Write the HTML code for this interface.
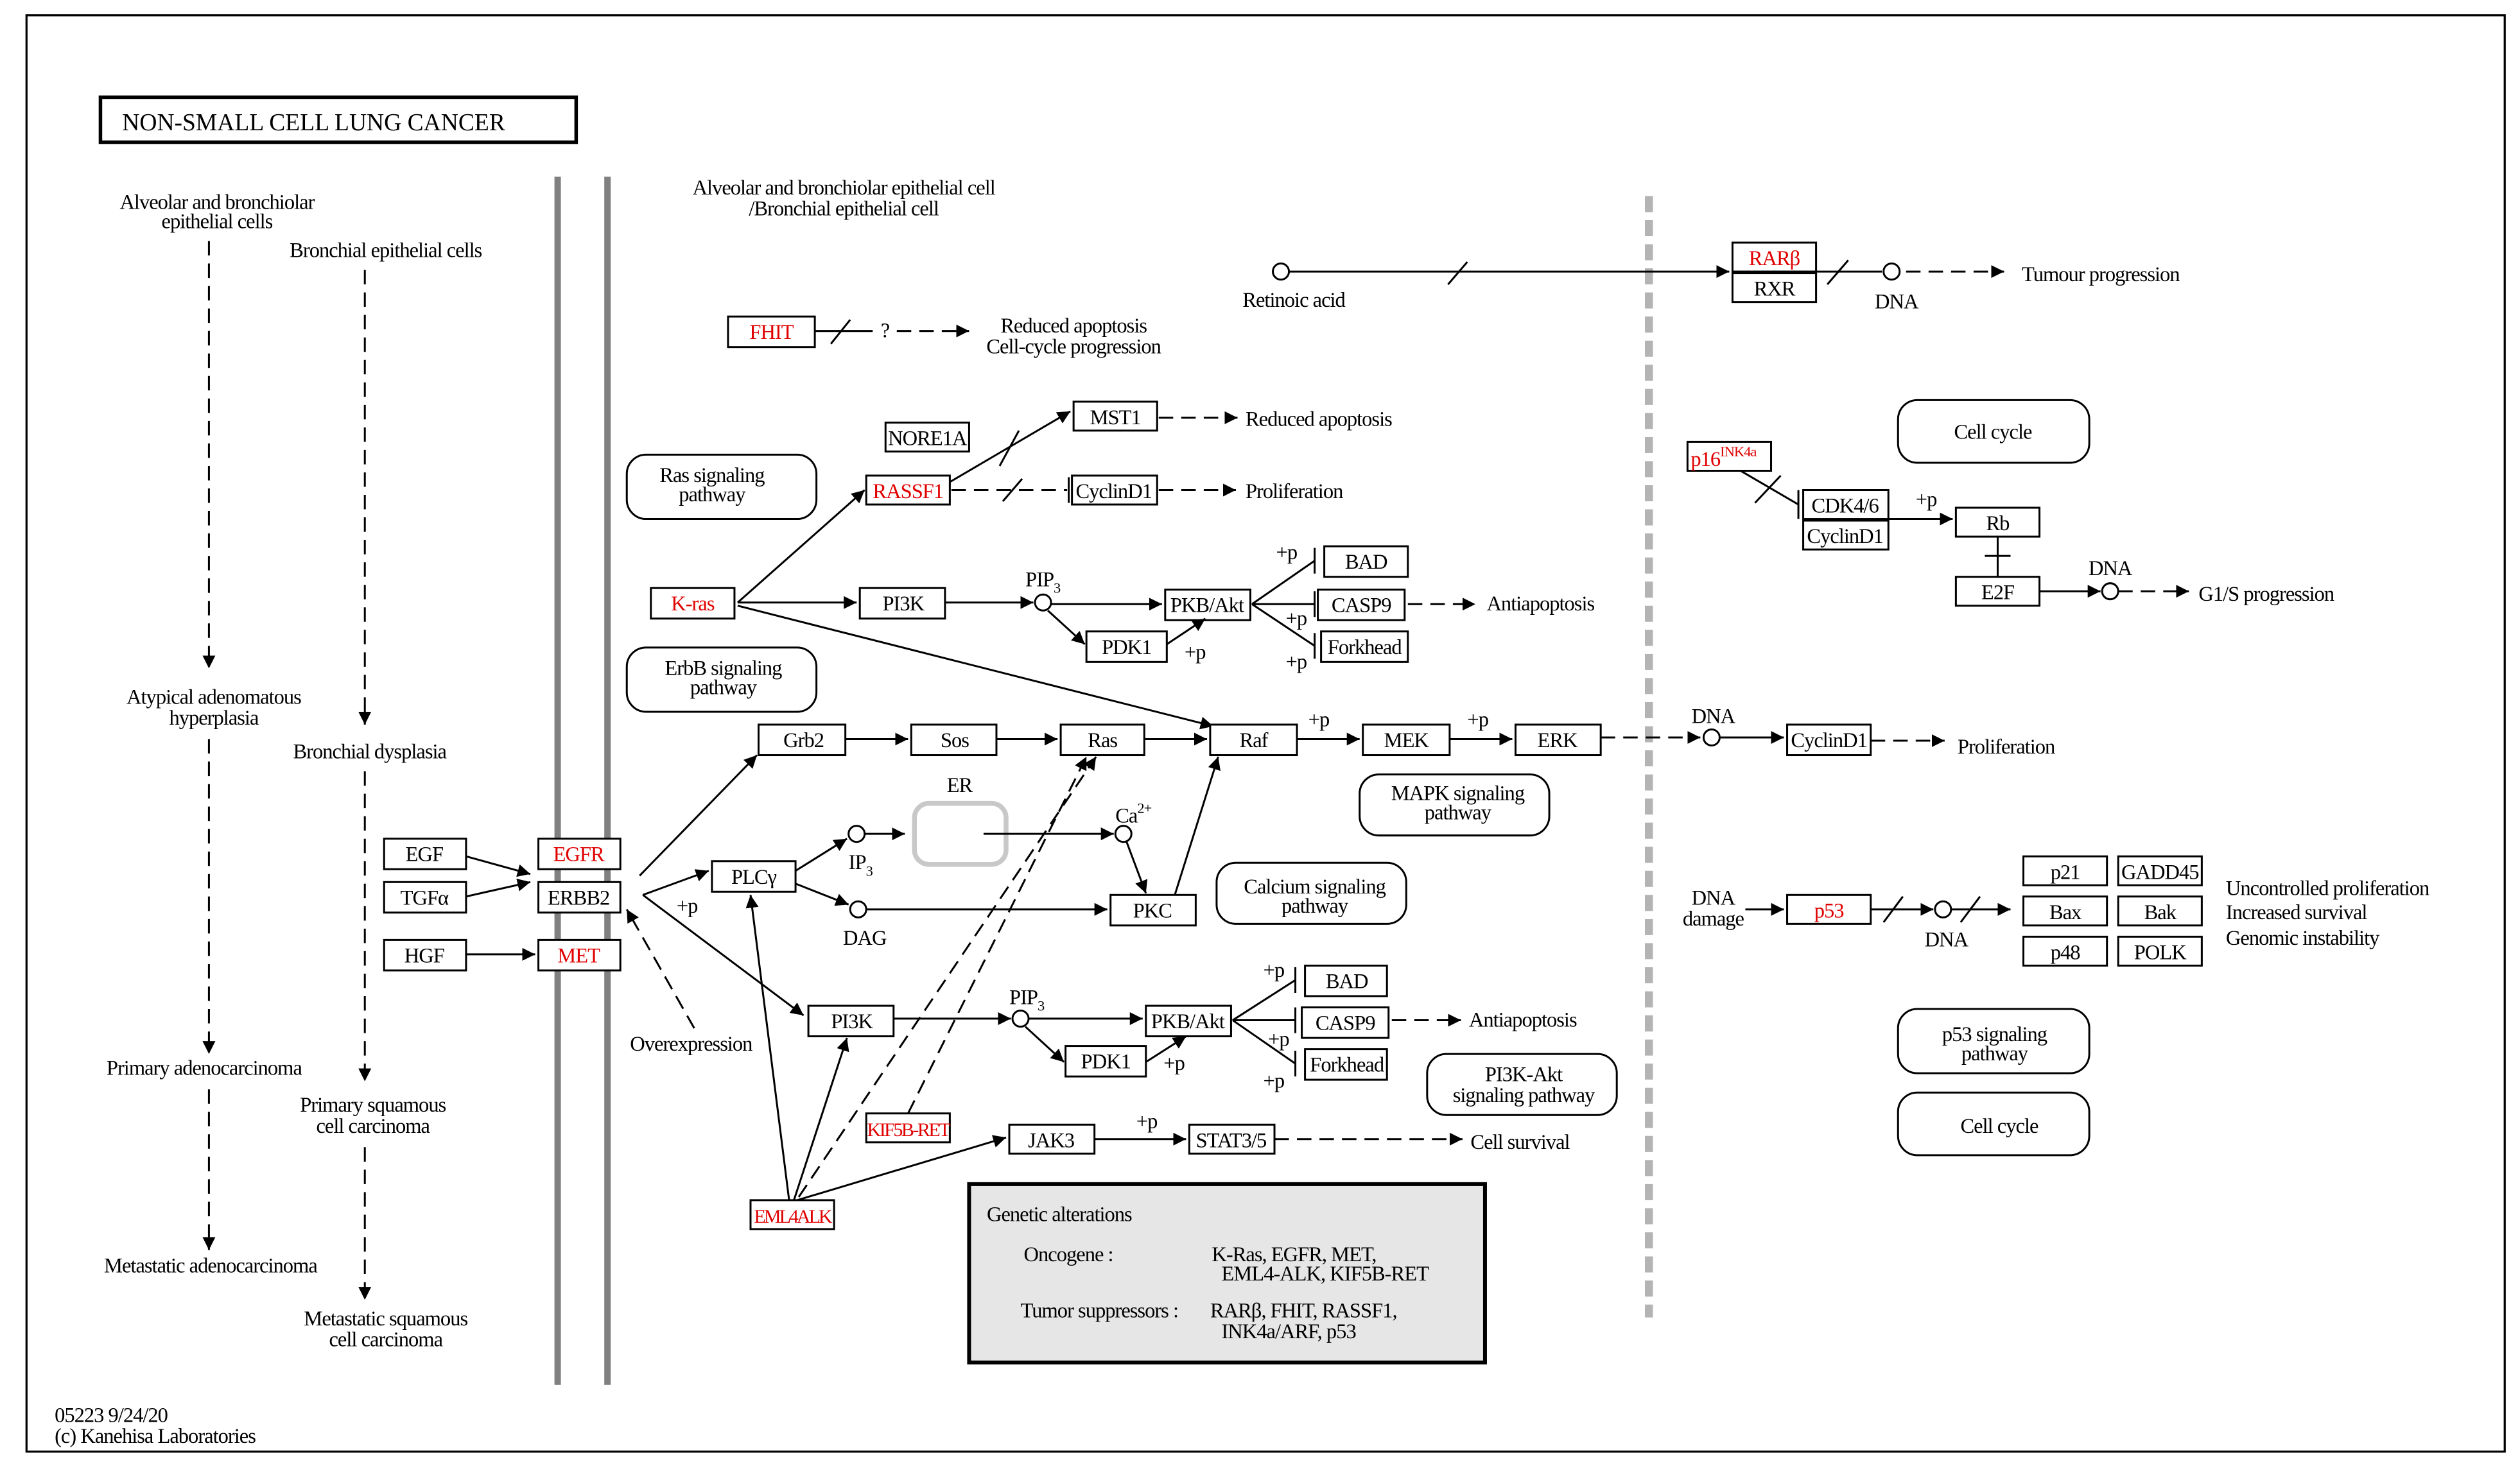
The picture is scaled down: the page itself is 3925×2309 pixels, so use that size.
<!DOCTYPE html>
<html><head><meta charset="utf-8"><style>
html,body{margin:0;padding:0;background:#fff}
svg{display:block}
text{font-family:"Liberation Serif","DejaVu Serif","Times New Roman",Times,serif;font-size:13px;fill:#000;letter-spacing:-0.4px}
.b{fill:#fff;stroke:#000;stroke-width:1.2}
.r{fill:#e00000}
.l{stroke:#000;stroke-width:1.2;fill:none}
.d{stroke:#000;stroke-width:1.2;fill:none;stroke-dasharray:9,5}
.rb{fill:#fff;stroke:#000;stroke-width:1.2}
</style></head><body>
<svg width="3925" height="2309" viewBox="0 0 1568 922.4" xmlns="http://www.w3.org/2000/svg">
<defs>
<marker id="a" viewBox="0 0 10 10" refX="10" refY="5" markerWidth="8" markerHeight="8" markerUnits="userSpaceOnUse" orient="auto"><path d="M0,0L10,5L0,10z" fill="#000"/></marker>
</defs>
<rect x="0" y="0" width="1568" height="923" fill="#fff"/>
<rect x="16.5" y="9.5" width="1542" height="894" fill="none" stroke="#000" stroke-width="1.3"/>
<rect x="62.5" y="60.5" width="296" height="28" fill="#fff" stroke="#000" stroke-width="2.2"/>
<text x="76" y="81" style="font-size:15px;letter-spacing:0">NON-SMALL  CELL  LUNG  CANCER</text>
<rect x="345" y="110" width="4" height="752" fill="#808080"/>
<rect x="376" y="110" width="4" height="752" fill="#808080"/>
<line x1="1026" y1="122" x2="1026" y2="820" stroke="#b4b4b4" stroke-width="5" stroke-dasharray="10,5"/>

<g text-anchor="middle">
<text x="135" y="130">Alveolar and bronchiolar</text><text x="135" y="142">epithelial cells</text>
<text x="240" y="160">Bronchial epithelial cells</text>
<text x="133" y="438">Atypical adenomatous</text><text x="133" y="451">hyperplasia</text>
<text x="230" y="472">Bronchial dysplasia</text>
<text x="127" y="669">Primary adenocarcinoma</text>
<text x="232" y="692">Primary squamous</text><text x="232" y="705">cell carcinoma</text>
<text x="131" y="792">Metastatic adenocarcinoma</text>
<text x="240" y="825">Metastatic squamous</text><text x="240" y="838">cell carcinoma</text>
<text x="525" y="121">Alveolar and bronchiolar epithelial cell</text><text x="525" y="134">/Bronchial epithelial cell</text>
</g>
<line class="d" x1="130" y1="150" x2="130" y2="416" marker-end="url(#a)"/>
<line class="d" x1="227" y1="168" x2="227" y2="451" marker-end="url(#a)"/>
<line class="d" x1="130" y1="460" x2="130" y2="656" marker-end="url(#a)"/>
<line class="d" x1="227" y1="480" x2="227" y2="673" marker-end="url(#a)"/>
<line class="d" x1="130" y1="678" x2="130" y2="778" marker-end="url(#a)"/>
<line class="d" x1="227" y1="714" x2="227" y2="809" marker-end="url(#a)"/>
<text x="34" y="885">05223 9/24/20</text><text x="34" y="898">(c) Kanehisa Laboratories</text>

<g text-anchor="middle">
<rect class="b" x="239" y="522" width="51" height="19"/><text x="264" y="536">EGF</text>
<rect class="b" x="239" y="549" width="51" height="19"/><text x="264" y="563">TGFα</text>
<rect class="b" x="239" y="585" width="51" height="19"/><text x="264" y="599">HGF</text>
<rect class="b" x="335" y="522" width="51" height="19"/><text class="r" x="360" y="536">EGFR</text>
<rect class="b" x="335" y="549" width="51" height="19"/><text x="360" y="563">ERBB2</text>
<rect class="b" x="335" y="585" width="51" height="19"/><text class="r" x="360" y="599">MET</text>
</g>
<line class="l" x1="290" y1="533" x2="330" y2="544" marker-end="url(#a)"/>
<line class="l" x1="290" y1="558" x2="330" y2="549" marker-end="url(#a)"/>
<line class="l" x1="290" y1="594" x2="333" y2="594" marker-end="url(#a)"/>

<rect class="b" x="453" y="197" width="54" height="19"/><text class="r" x="480" y="211" text-anchor="middle">FHIT</text>
<line class="l" x1="507" y1="206" x2="543" y2="206"/><line class="l" x1="517" y1="214" x2="529" y2="199"/>
<text x="548" y="210">?</text>
<line class="d" x1="558" y1="206" x2="603" y2="206" marker-end="url(#a)"/>
<text x="668" y="207" text-anchor="middle">Reduced apoptosis</text><text x="668" y="220" text-anchor="middle">Cell-cycle progression</text>

<circle cx="797" cy="169" r="5" fill="#fff" stroke="#000" stroke-width="1.2"/>
<line class="l" x1="802" y1="169" x2="1076" y2="169" marker-end="url(#a)"/>
<line class="l" x1="901" y1="177" x2="913" y2="163"/>
<text x="805" y="191" text-anchor="middle">Retinoic acid</text>
<rect class="b" x="1078" y="151" width="52" height="18"/><text class="r" x="1104" y="165" text-anchor="middle">RARβ</text>
<rect class="b" x="1078" y="170" width="52" height="18"/><text x="1104" y="184" text-anchor="middle">RXR</text>
<line class="l" x1="1130" y1="169" x2="1171" y2="169"/><line class="l" x1="1137" y1="177" x2="1150" y2="162"/>
<circle cx="1177" cy="169" r="5" fill="#fff" stroke="#000" stroke-width="1.2"/>
<text x="1180" y="192" text-anchor="middle">DNA</text>
<line class="d" x1="1186" y1="169" x2="1247" y2="169" marker-end="url(#a)"/>
<text x="1258" y="175">Tumour progression</text>

<g text-anchor="middle">
<rect class="b" x="551" y="263" width="52" height="18"/><text x="577" y="277">NORE1A</text>
<rect class="b" x="668" y="250" width="52" height="18"/><text x="694" y="264">MST1</text>
<rect class="b" x="539" y="296" width="52" height="18"/><text class="r" x="565" y="310">RASSF1</text>
<rect class="b" x="667" y="296" width="53" height="18"/><text x="693" y="310">CyclinD1</text>
<rect class="b" x="405" y="366" width="52" height="19"/><text class="r" x="431" y="380">K-ras</text>
</g>
<line class="l" x1="459" y1="375" x2="538" y2="305" marker-end="url(#a)"/>
<line class="l" x1="591" y1="300" x2="666" y2="256" marker-end="url(#a)"/>
<line class="l" x1="622" y1="290" x2="634" y2="268"/>
<line class="d" x1="592" y1="305" x2="664" y2="305"/><line class="l" x1="665" y1="297" x2="665" y2="313"/>
<line class="l" x1="624" y1="312" x2="636" y2="298"/>
<line class="d" x1="721" y1="260" x2="770" y2="260" marker-end="url(#a)"/><text x="775" y="265">Reduced apoptosis</text>
<line class="d" x1="721" y1="305" x2="769" y2="305" marker-end="url(#a)"/><text x="775" y="310">Proliferation</text>

<g text-anchor="middle">
<rect class="rb" x="390" y="283" width="118" height="40" rx="12"/><text x="443" y="300">Ras signaling</text><text x="443" y="312">pathway</text>
<rect class="rb" x="390" y="403" width="118" height="40" rx="12"/><text x="450" y="420">ErbB signaling</text><text x="450" y="432">pathway</text>
<rect class="rb" x="846" y="482" width="118" height="38" rx="12"/><text x="907" y="498">MAPK signaling</text><text x="907" y="510">pathway</text>
<rect class="rb" x="757" y="537" width="118" height="38" rx="12"/><text x="818" y="556">Calcium signaling</text><text x="818" y="568">pathway</text>
<rect class="rb" x="888" y="656" width="118" height="38" rx="12"/><text x="948" y="673">PI3K-Akt</text><text x="948" y="686">signaling pathway</text>
<rect class="rb" x="1181" y="249" width="119" height="39" rx="12"/><text x="1240" y="273">Cell cycle</text>
<rect class="rb" x="1181" y="628" width="119" height="40" rx="12"/><text x="1241" y="648">p53 signaling</text><text x="1241" y="660">pathway</text>
<rect class="rb" x="1181" y="680" width="119" height="39" rx="12"/><text x="1244" y="705">Cell cycle</text>
</g>

<g text-anchor="middle">
<rect class="b" x="535" y="366" width="53" height="19"/><text x="562" y="380">PI3K</text>
<rect class="b" x="725" y="367" width="53" height="19"/><text x="751" y="381">PKB/Akt</text>
<rect class="b" x="676" y="393" width="50" height="19"/><text x="701" y="407">PDK1</text>
<rect class="b" x="824" y="340" width="52" height="19"/><text x="850" y="354">BAD</text>
<rect class="b" x="820" y="367" width="54" height="19"/><text x="847" y="381">CASP9</text>
<rect class="b" x="822" y="393" width="54" height="19"/><text x="849" y="407">Forkhead</text>
</g>
<line class="l" x1="459" y1="375" x2="533" y2="375" marker-end="url(#a)"/>
<line class="l" x1="588" y1="375" x2="643" y2="375" marker-end="url(#a)"/>
<circle cx="649" cy="375" r="5" fill="#fff" stroke="#000" stroke-width="1.2"/>
<text x="638" y="365">PIP<tspan dy="4" style="font-size:9px">3</tspan></text>
<line class="l" x1="654" y1="376" x2="723" y2="376" marker-end="url(#a)"/>
<line class="l" x1="652" y1="380" x2="675" y2="401" marker-end="url(#a)"/>
<line class="l" x1="726" y1="401" x2="750" y2="385" marker-end="url(#a)"/>
<text x="737" y="410">+p</text>
<line class="l" x1="779" y1="376" x2="818" y2="349"/><line class="l" x1="818" y1="341" x2="818" y2="357"/>
<line class="l" x1="779" y1="376" x2="818" y2="376"/><line class="l" x1="818" y1="368" x2="818" y2="384"/>
<line class="l" x1="779" y1="376" x2="818" y2="402"/><line class="l" x1="818" y1="394" x2="818" y2="410"/>
<text x="794" y="348">+p</text><text x="800" y="389">+p</text><text x="800" y="416">+p</text>
<line class="d" x1="876" y1="376" x2="918" y2="376" marker-end="url(#a)"/><text x="925" y="380">Antiapoptosis</text>
<line class="l" x1="459" y1="377" x2="755" y2="452" marker-end="url(#a)"/>

<g text-anchor="middle">
<rect class="b" x="472" y="451" width="54" height="19"/><text x="500" y="465">Grb2</text>
<rect class="b" x="567" y="451" width="53" height="19"/><text x="594" y="465">Sos</text>
<rect class="b" x="660" y="451" width="52" height="19"/><text x="686" y="465">Ras</text>
<rect class="b" x="753" y="451" width="54" height="19"/><text x="780" y="465">Raf</text>
<rect class="b" x="848" y="451" width="54" height="19"/><text x="875" y="465">MEK</text>
<rect class="b" x="943" y="451" width="53" height="19"/><text x="969" y="465">ERK</text>
<rect class="b" x="1112" y="451" width="52" height="19"/><text x="1138" y="465">CyclinD1</text>
</g>
<line class="l" x1="526" y1="460" x2="565" y2="460" marker-end="url(#a)"/>
<line class="l" x1="620" y1="460" x2="658" y2="460" marker-end="url(#a)"/>
<line class="l" x1="712" y1="460" x2="751" y2="460" marker-end="url(#a)"/>
<line class="l" x1="807" y1="460" x2="846" y2="460" marker-end="url(#a)"/><text x="814" y="452">+p</text>
<line class="l" x1="902" y1="460" x2="941" y2="460" marker-end="url(#a)"/><text x="913" y="452">+p</text>
<line class="d" x1="996" y1="459" x2="1058" y2="459" marker-end="url(#a)"/>
<circle cx="1065" cy="459" r="5" fill="#fff" stroke="#000" stroke-width="1.2"/>
<text x="1066" y="450" text-anchor="middle">DNA</text>
<line class="l" x1="1070" y1="459" x2="1110" y2="459" marker-end="url(#a)"/>
<line class="d" x1="1164" y1="461" x2="1210" y2="461" marker-end="url(#a)"/><text x="1218" y="469">Proliferation</text>

<line class="l" x1="398" y1="545" x2="471" y2="470" marker-end="url(#a)"/>
<line class="l" x1="400" y1="557" x2="441" y2="542" marker-end="url(#a)"/>
<line class="l" x1="400" y1="557" x2="500" y2="632" marker-end="url(#a)"/>
<text x="421" y="568">+p</text>
<line class="d" x1="432" y1="640" x2="390" y2="566" marker-end="url(#a)"/>
<text x="430" y="654" text-anchor="middle">Overexpression</text>

<g text-anchor="middle">
<rect class="b" x="443" y="536" width="52" height="19"/><text x="469" y="550">PLCγ</text>
<rect class="b" x="691" y="557" width="53" height="19"/><text x="717" y="571">PKC</text>
</g>
<rect x="569" y="500" width="57" height="38" rx="9" fill="none" stroke="#c8c8c8" stroke-width="3"/>
<text x="597" y="493" text-anchor="middle">ER</text>
<line class="l" x1="495" y1="542" x2="527" y2="522" marker-end="url(#a)"/>
<circle cx="533" cy="519" r="5" fill="#fff" stroke="#000" stroke-width="1.2"/>
<text x="528" y="541">IP<tspan dy="4" style="font-size:9px">3</tspan></text>
<line class="l" x1="538" y1="519" x2="563" y2="519" marker-end="url(#a)"/>
<line class="l" x1="612" y1="519" x2="693" y2="519" marker-end="url(#a)"/>
<circle cx="699" cy="519" r="5" fill="#fff" stroke="#000" stroke-width="1.2"/>
<text x="694" y="512">Ca<tspan dy="-6" style="font-size:9px">2+</tspan></text>
<line class="l" x1="701" y1="524" x2="713" y2="556" marker-end="url(#a)"/>
<line class="l" x1="495" y1="550" x2="528" y2="563" marker-end="url(#a)"/>
<circle cx="534" cy="566" r="5" fill="#fff" stroke="#000" stroke-width="1.2"/>
<text x="538" y="588" text-anchor="middle">DAG</text>
<line class="l" x1="539" y1="566" x2="689" y2="566" marker-end="url(#a)"/>
<line class="l" x1="731" y1="557" x2="758" y2="471" marker-end="url(#a)"/>

<g text-anchor="middle">
<rect class="b" x="503" y="626" width="53" height="19"/><text x="530" y="640">PI3K</text>
<rect class="b" x="713" y="626" width="53" height="19"/><text x="739" y="640">PKB/Akt</text>
<rect class="b" x="663" y="651" width="50" height="19"/><text x="688" y="665">PDK1</text>
<rect class="b" x="812" y="601" width="51" height="19"/><text x="838" y="615">BAD</text>
<rect class="b" x="810" y="627" width="54" height="19"/><text x="837" y="641">CASP9</text>
<rect class="b" x="812" y="653" width="51" height="19"/><text x="838" y="667">Forkhead</text>
</g>
<line class="l" x1="556" y1="634" x2="629" y2="634" marker-end="url(#a)"/>
<circle cx="635" cy="634" r="5" fill="#fff" stroke="#000" stroke-width="1.2"/>
<text x="628" y="625">PIP<tspan dy="4" style="font-size:9px">3</tspan></text>
<line class="l" x1="640" y1="634" x2="711" y2="634" marker-end="url(#a)"/>
<line class="l" x1="638" y1="639" x2="662" y2="661" marker-end="url(#a)"/>
<line class="l" x1="713" y1="661" x2="738" y2="645" marker-end="url(#a)"/>
<text x="724" y="666">+p</text>
<line class="l" x1="767" y1="635" x2="806" y2="610"/><line class="l" x1="806" y1="602" x2="806" y2="618"/>
<line class="l" x1="767" y1="635" x2="806" y2="635"/><line class="l" x1="806" y1="627" x2="806" y2="643"/>
<line class="l" x1="767" y1="635" x2="806" y2="662"/><line class="l" x1="806" y1="654" x2="806" y2="670"/>
<text x="786" y="608">+p</text><text x="789" y="651">+p</text><text x="786" y="677">+p</text>
<line class="d" x1="866" y1="635" x2="909" y2="635" marker-end="url(#a)"/><text x="914" y="639">Antiapoptosis</text>

<g text-anchor="middle">
<rect class="b" x="539" y="693" width="52" height="18"/><text class="r" x="565" y="707" style="font-size:12px;letter-spacing:-1px">KIF5B-RET</text>
<rect class="b" x="467" y="747" width="52" height="18"/><text class="r" x="493" y="761" style="font-size:12px;letter-spacing:-1.2px">EML4ALK</text>
<rect class="b" x="628" y="700" width="53" height="18"/><text x="654" y="714">JAK3</text>
<rect class="b" x="740" y="700" width="53" height="18"/><text x="766" y="714">STAT3/5</text>
</g>
<line class="l" x1="491" y1="747" x2="467" y2="557" marker-end="url(#a)"/>
<line class="l" x1="494" y1="747" x2="527" y2="646" marker-end="url(#a)"/>
<line class="l" x1="496" y1="747" x2="626" y2="708" marker-end="url(#a)"/>
<line class="d" x1="497" y1="745" x2="682" y2="471" marker-end="url(#a)"/>
<line class="d" x1="565" y1="693" x2="676" y2="471" marker-end="url(#a)"/>
<line class="l" x1="681" y1="709" x2="738" y2="709" marker-end="url(#a)"/><text x="707" y="702">+p</text>
<line class="d" x1="793" y1="709" x2="910" y2="709" marker-end="url(#a)"/><text x="915" y="715">Cell survival</text>

<rect x="603" y="737" width="321" height="111" fill="#e6e6e6" stroke="#000" stroke-width="2.4"/>
<text x="614" y="760">Genetic alterations</text>
<text x="637" y="785">Oncogene :</text>
<text x="754" y="785">K-Ras, EGFR, MET,</text><text x="760" y="797">EML4-ALK, KIF5B-RET</text>
<text x="635" y="820">Tumor suppressors :</text>
<text x="753" y="820">RARβ, FHIT, RASSF1,</text><text x="760" y="833">INK4a/ARF, p53</text>

<rect class="b" x="1050" y="275" width="52" height="18"/>
<text class="r" x="1052" y="290">p16<tspan dy="-6" style="font-size:9px">INK4a</tspan></text>
<line class="l" x1="1083" y1="293" x2="1119" y2="314"/><line class="l" x1="1092" y1="313" x2="1108" y2="296"/>
<line class="l" x1="1119" y1="305" x2="1119" y2="323"/>
<g text-anchor="middle">
<rect class="b" x="1122" y="305" width="53" height="18"/><text x="1148" y="319">CDK4/6</text>
<rect class="b" x="1122" y="324" width="53" height="18"/><text x="1148" y="338">CyclinD1</text>
<rect class="b" x="1217" y="316" width="52" height="18"/><text x="1243" y="330">Rb</text>
<rect class="b" x="1217" y="359" width="52" height="18"/><text x="1243" y="373">E2F</text>
</g>
<line class="l" x1="1175" y1="323" x2="1215" y2="323" marker-end="url(#a)"/><text x="1192" y="315">+p</text>
<line class="l" x1="1243" y1="334" x2="1243" y2="359"/><line class="l" x1="1235" y1="346" x2="1251" y2="346"/>
<line class="l" x1="1269" y1="368" x2="1307" y2="368" marker-end="url(#a)"/>
<circle cx="1313" cy="368" r="5" fill="#fff" stroke="#000" stroke-width="1.2"/>
<text x="1313" y="358" text-anchor="middle">DNA</text>
<line class="d" x1="1318" y1="368" x2="1362" y2="368" marker-end="url(#a)"/><text x="1368" y="374">G1/S progression</text>

<text x="1066" y="563" text-anchor="middle">DNA</text><text x="1066" y="576" text-anchor="middle">damage</text>
<line class="l" x1="1086" y1="566" x2="1110" y2="566" marker-end="url(#a)"/>
<rect class="b" x="1112" y="557" width="52" height="18"/><text class="r" x="1138" y="571" text-anchor="middle">p53</text>
<line class="l" x1="1164" y1="566" x2="1203" y2="566" marker-end="url(#a)"/><line class="l" x1="1172" y1="574" x2="1184" y2="558"/>
<circle cx="1209" cy="566" r="5" fill="#fff" stroke="#000" stroke-width="1.2"/>
<text x="1211" y="589" text-anchor="middle">DNA</text>
<line class="l" x1="1214" y1="566" x2="1251" y2="566" marker-end="url(#a)"/><line class="l" x1="1220" y1="574" x2="1232" y2="558"/>
<g text-anchor="middle">
<rect class="b" x="1259" y="533" width="52" height="18"/><text x="1285" y="547">p21</text>
<rect class="b" x="1318" y="533" width="52" height="18"/><text x="1344" y="547">GADD45</text>
<rect class="b" x="1259" y="558" width="52" height="18"/><text x="1285" y="572">Bax</text>
<rect class="b" x="1318" y="558" width="52" height="18"/><text x="1344" y="572">Bak</text>
<rect class="b" x="1259" y="583" width="52" height="18"/><text x="1285" y="597">p48</text>
<rect class="b" x="1318" y="583" width="52" height="18"/><text x="1344" y="597">POLK</text>
</g>
<text x="1385" y="557">Uncontrolled proliferation</text>
<text x="1385" y="572">Increased survival</text>
<text x="1385" y="588">Genomic instability</text>
</svg>
</body></html>
